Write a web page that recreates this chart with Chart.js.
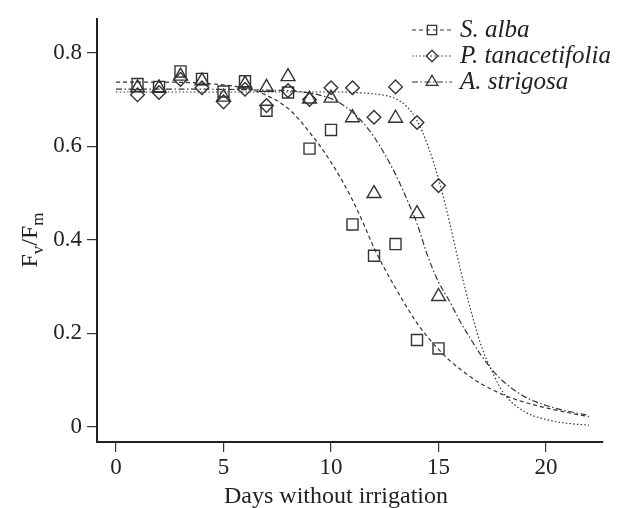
<!DOCTYPE html>
<html>
<head>
<meta charset="utf-8">
<script src="https://cdn.jsdelivr.net/npm/chart.js@4.4.1/dist/chart.umd.min.js"></script>
<style>
  html, body { margin: 0; padding: 0; background: #fff; }
  #wrap { width: 624px; height: 508px; position: relative; }
</style>
</head>
<body>
<div id="wrap"><canvas id="c" width="624" height="508"></canvas></div>
<script>
// ---- data ----
const seriesNames = ['S. alba', 'P. tanacetifolia', 'A. strigosa'];
const days = [1, 2, 3, 4, 5, 6, 7, 8, 9, 10, 11, 12, 13, 14, 15];
const sAlba  = [0.733, 0.727, 0.760, 0.744, 0.717, 0.739, 0.676, 0.715, 0.595, 0.635, 0.433, 0.366, 0.391, 0.186, 0.168];
const pTanac = [0.710, 0.715, 0.743, 0.725, 0.695, 0.722, 0.687, 0.719, 0.700, 0.725, 0.725, 0.662, 0.727, 0.651, 0.516];
const aStrig = [0.725, 0.725, 0.750, 0.740, 0.705, 0.733, 0.726, 0.749, 0.701, 0.703, 0.661, 0.499, 0.660, 0.456, 0.279];

// fitted curves
const fitDays  = [0, 2, 4, 6, 7, 8, 8.5, 9, 9.5, 10, 10.5, 11, 11.5, 12, 12.5, 13, 13.5, 14, 14.5, 15, 15.5, 16, 16.5, 17, 17.5, 18, 19, 20, 21, 22];
const sAlbaFit = [0.737, 0.737, 0.735, 0.724, 0.709, 0.681, 0.658, 0.630, 0.600, 0.566, 0.528, 0.485, 0.436, 0.383, 0.338, 0.297, 0.258, 0.222, 0.192, 0.166, 0.143, 0.124, 0.107, 0.092, 0.080, 0.069, 0.053, 0.041, 0.031, 0.022];
const pTanacFit= [0.716, 0.716, 0.716, 0.716, 0.716, 0.716, 0.716, 0.716, 0.716, 0.716, 0.716, 0.715, 0.714, 0.712, 0.709, 0.702, 0.686, 0.655, 0.602, 0.530, 0.440, 0.340, 0.250, 0.172, 0.118, 0.074, 0.033, 0.016, 0.008, 0.004];
const aStrigFit= [0.722, 0.722, 0.722, 0.721, 0.720, 0.719, 0.717, 0.714, 0.709, 0.702, 0.690, 0.673, 0.650, 0.620, 0.583, 0.540, 0.490, 0.435, 0.365, 0.310, 0.270, 0.226, 0.188, 0.152, 0.122, 0.098, 0.065, 0.046, 0.034, 0.025];

const xTicks = [0, 5, 10, 15, 20];
const yTicks = [0, 0.2, 0.4, 0.6, 0.8];

// ---- styles ----
const INK = '#333';
const pointStyles = ['rect', 'rectRot', 'triangle'];
const pointRadii = [7.8, 6.8, 8];
const dashes = [[4, 3], [1.5, 2.2], [6, 2.5, 1.5, 2.5]];

function pts(xs, ys) { return xs.map((x, i) => ({ x: x, y: ys[i] })); }

const obs = [sAlba, pTanac, aStrig];
const fits = [sAlbaFit, pTanacFit, aStrigFit];

const datasets = [];
fits.forEach((f, i) => {
  datasets.push({
    label: seriesNames[i] + ' fit',
    data: pts(fitDays, f),
    showLine: true,
    borderColor: INK,
    borderWidth: 1.2,
    borderDash: dashes[i],
    pointRadius: 0,
    cubicInterpolationMode: 'monotone',
    fill: false
  });
});
obs.forEach((o, i) => {
  datasets.push({
    label: seriesNames[i],
    data: pts(days, o),
    showLine: false,
    pointStyle: pointStyles[i],
    pointRadius: pointRadii[i],
    pointBorderColor: INK,
    pointBackgroundColor: 'rgba(0,0,0,0)',
    pointBorderWidth: 1.4
  });
});

const SERIF = '"Liberation Serif", "DejaVu Serif", serif';

const annot = {
  id: 'annot',
  afterDraw(chart) {
    const ctx = chart.ctx;
    ctx.save();
    // x-axis title
    ctx.fillStyle = '#222';
    ctx.font = '24px ' + SERIF;
    ctx.textAlign = 'center';
    ctx.textBaseline = 'alphabetic';
    ctx.fillText('Days without irrigation', 336, 503);
    // y-axis title with subscripts (rotated)
    ctx.save();
    ctx.translate(37, 240);
    ctx.rotate(-Math.PI / 2);
    const big = '24px ' + SERIF, small = '17px ' + SERIF;
    const parts = [['F', big, 0], ['v', small, 6], ['/', big, 0], ['F', big, 0], ['m', small, 6]];
    let total = 0;
    parts.forEach(p => { ctx.font = p[1]; total += ctx.measureText(p[0]).width; });
    let x = -total / 2;
    ctx.textAlign = 'left';
    parts.forEach(p => {
      ctx.font = p[1];
      ctx.fillText(p[0], x, p[2]);
      x += ctx.measureText(p[0]).width;
    });
    ctx.restore();
    // legend
    const rows = [30, 56, 82];
    seriesNames.forEach((name, i) => {
      const y = rows[i];
      ctx.save();
      ctx.strokeStyle = INK;
      ctx.lineWidth = 1.2;
      ctx.setLineDash(dashes[i]);
      ctx.beginPath();
      ctx.moveTo(412, y);
      ctx.lineTo(452, y);
      ctx.stroke();
      ctx.restore();
      ctx.save();
      ctx.strokeStyle = INK;
      ctx.fillStyle = 'rgba(0,0,0,0)';
      ctx.lineWidth = 1.3;
      Chart.helpers.drawPoint(ctx, { pointStyle: pointStyles[i], radius: pointRadii[i] * 0.85, rotation: 0, borderWidth: 1.3 }, 432, y);
      ctx.restore();
      ctx.fillStyle = '#222';
      ctx.font = 'italic 25px ' + SERIF;
      ctx.textAlign = 'left';
      ctx.textBaseline = 'middle';
      ctx.fillText(name, 460, y);
    });
    ctx.restore();
  }
};

new Chart(document.getElementById('c'), {
  type: 'scatter',
  data: { datasets: datasets },
  options: {
    responsive: false,
    animation: false,
    devicePixelRatio: 1,
    layout: { padding: { top: 18, right: 21, left: 0, bottom: 0 } },
    plugins: { legend: { display: false }, tooltip: { enabled: false } },
    scales: {
      x: {
        type: 'linear',
        min: -0.884,
        max: 22.65,
        afterBuildTicks(scale) { scale.ticks = xTicks.map(v => ({ value: v })); },
        afterFit(scale) { scale.height = 66; },
        grid: { display: true, drawOnChartArea: false, drawTicks: true, tickLength: 10, color: INK, lineWidth: 1.2 },
        border: { display: true, color: '#222', width: 2 },
        ticks: { color: '#222', font: { family: SERIF, size: 23 }, padding: 2, maxRotation: 0,
                 callback: v => String(v) }
      },
      y: {
        type: 'linear',
        min: -0.032,
        max: 0.8725,
        afterBuildTicks(scale) { scale.ticks = yTicks.map(v => ({ value: v })); },
        afterFit(scale) { scale.width = 97; },
        grid: { display: true, drawOnChartArea: false, drawTicks: true, tickLength: 10, color: INK, lineWidth: 1.2 },
        border: { display: true, color: '#222', width: 2 },
        ticks: { color: '#222', font: { family: SERIF, size: 23 }, padding: 5,
                 callback: v => String(Math.round(v * 10) / 10) }
      }
    }
  },
  plugins: [annot]
});
</script>
</body>
</html>
